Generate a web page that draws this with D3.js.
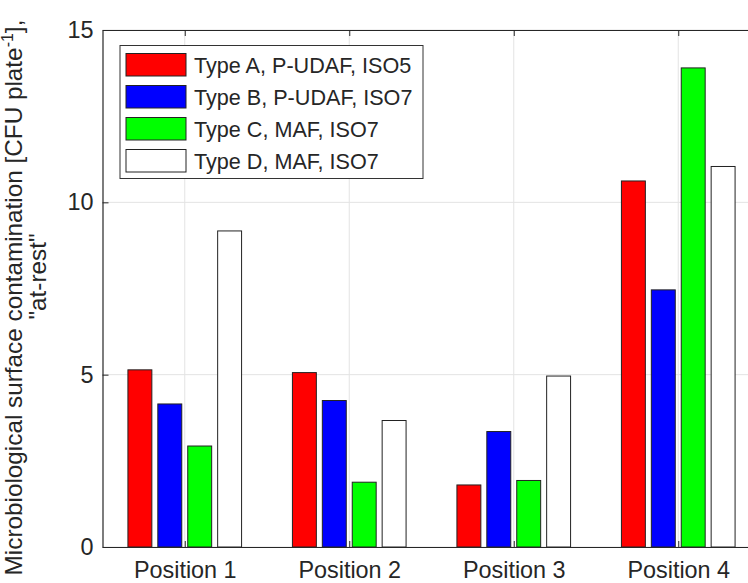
<!DOCTYPE html>
<html>
<head>
<meta charset="utf-8">
<script src="https://cdn.jsdelivr.net/npm/d3@7"></script>
<style>
  html, body { margin: 0; padding: 0; background: #fff; }
  svg { display: block; }
  text { font-family: "Liberation Sans", Arial, Helvetica, sans-serif; fill: #262626; }
</style>
</head>
<body>
<svg id="chart" width="748" height="583"></svg>
<script>
const categories = ["Position 1", "Position 2", "Position 3", "Position 4"];
const seriesNames = ["Type A, P-UDAF, ISO5", "Type B, P-UDAF, ISO7", "Type C, MAF, ISO7", "Type D, MAF, ISO7"];
const typeA = [5.14, 5.06, 1.80, 10.62];
const typeB = [4.15, 4.25, 3.35, 7.46];
const typeC = [2.93, 1.88, 1.93, 13.90];
const typeD = [9.17, 3.67, 4.96, 11.04];
const seriesColors = ["#ff0000", "#0000ff", "#00ff00", "#ffffff"];
const yTicks = [0, 5, 10, 15];

const series = [typeA, typeB, typeC, typeD];

const svg = d3.select("#chart");
const pLeft = 102.5, pRight = 760.5, pTop = 30, pBottom = 547;

const x = d3.scaleLinear().domain([0.5, 4.5]).range([pLeft, pRight]);
const y = d3.scaleLinear().domain([0, 15]).range([pBottom, pTop]);

// MATLAB grouped bar geometry
const nS = series.length;
const groupWidth = Math.min(0.8, nS / (nS + 1.5));
const step = groupWidth / nS;
const barW = step * 0.8;

const axisColor = "#262626";
const gridColor = "#e3e3e3";

// grid
const grid = svg.append("g");
grid.selectAll("line.gx").data(categories).join("line")
  .attr("x1", (d, i) => x(i + 1)).attr("x2", (d, i) => x(i + 1))
  .attr("y1", pTop).attr("y2", pBottom)
  .attr("stroke", gridColor).attr("stroke-width", 1);
grid.selectAll("line.gy").data(yTicks).join("line")
  .attr("x1", pLeft).attr("x2", pRight)
  .attr("y1", d => y(d)).attr("y2", d => y(d))
  .attr("stroke", gridColor).attr("stroke-width", 1);

// bars
series.forEach((vals, j) => {
  svg.append("g").selectAll("rect").data(vals).join("rect")
    .attr("x", (d, i) => x(i + 1 + (j - (nS - 1) / 2) * step - barW / 2))
    .attr("width", () => x(barW) - x(0))
    .attr("y", d => y(d))
    .attr("height", d => y(0) - y(d))
    .attr("fill", seriesColors[j])
    .attr("stroke", "#222")
    .attr("stroke-width", 1);
});

// axes (box)
const xAxisB = d3.axisBottom(x).tickValues([1, 2, 3, 4]).tickFormat(d => categories[d - 1]).tickSizeInner(-6).tickSizeOuter(0).tickPadding(14);
const gxb = svg.append("g").attr("transform", `translate(0,${pBottom})`).call(xAxisB);
gxb.select(".domain").attr("stroke", axisColor).attr("stroke-width", 1.2);
gxb.selectAll(".tick line").attr("stroke", axisColor);
gxb.selectAll(".tick text").attr("font-size", "23.4px").attr("fill", axisColor);

const xAxisT = d3.axisTop(x).tickValues([1, 2, 3, 4]).tickFormat("").tickSizeInner(-6).tickSizeOuter(0);
const gxt = svg.append("g").attr("transform", `translate(0,${pTop})`).call(xAxisT);
gxt.select(".domain").attr("stroke", axisColor).attr("stroke-width", 1.2);
gxt.selectAll(".tick line").attr("stroke", axisColor);

const yAxis = d3.axisLeft(y).tickValues(yTicks).tickFormat(d3.format("d")).tickSizeInner(-6).tickSizeOuter(0).tickPadding(9);
const gy = svg.append("g").attr("transform", `translate(${pLeft},0)`).call(yAxis);
gy.select(".domain").attr("stroke", axisColor).attr("stroke-width", 1.2);
gy.selectAll(".tick line").attr("stroke", axisColor);
gy.selectAll(".tick text").attr("font-size", "23.4px").attr("fill", axisColor);

// y label
const yl = svg.append("text")
  .attr("transform", `translate(22,${(pTop + pBottom) / 2 + 9}) rotate(-90)`)
  .attr("text-anchor", "middle")
  .attr("font-size", "24.3px");
yl.append("tspan").text("Microbiological surface contamination [CFU plate");
yl.append("tspan").attr("font-size", "16px").attr("dy", "-9").text("-1");
yl.append("tspan").attr("dy", "9").text("],");
svg.append("text")
  .attr("transform", `translate(46,${(pTop + pBottom) / 2 - 12}) rotate(-90)`)
  .attr("text-anchor", "middle")
  .attr("font-size", "24.3px")
  .text("\"at-rest\"");

// legend
const lg = svg.append("g");
lg.append("rect").attr("x", 120).attr("y", 45.5).attr("width", 303).attr("height", 133)
  .attr("fill", "#fff").attr("stroke", "#333").attr("stroke-width", 1);
seriesNames.forEach((name, j) => {
  const yy = 53.5 + j * 32;
  lg.append("rect").attr("x", 126).attr("y", yy).attr("width", 60).attr("height", 22.5)
    .attr("fill", seriesColors[j]).attr("stroke", "#222").attr("stroke-width", 1);
  lg.append("text").attr("x", 194).attr("y", yy + 11.25).attr("dy", "0.36em")
    .attr("font-size", "21.6px").attr("fill", "#000").text(name);
});
</script>
</body>
</html>
